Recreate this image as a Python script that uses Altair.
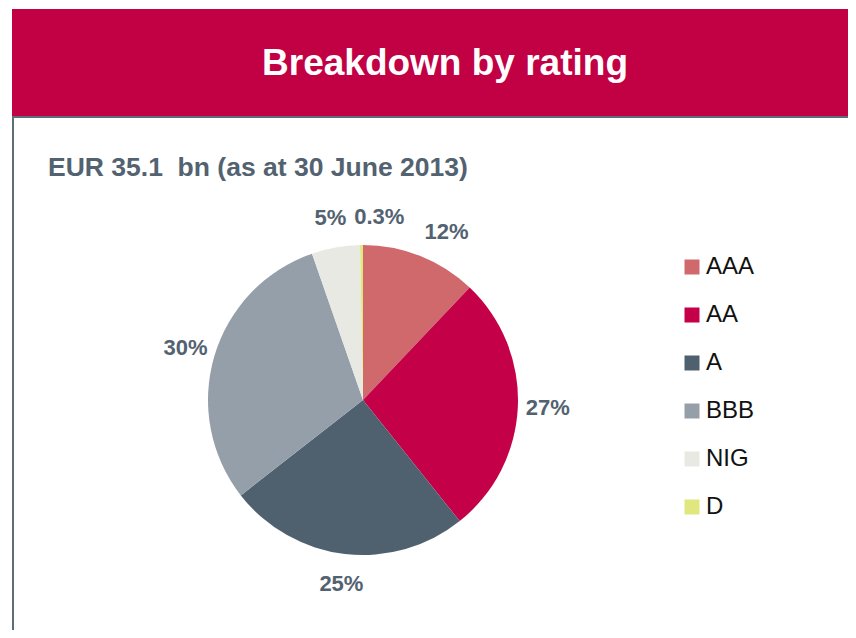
import altair as alt
import pandas as pd

ratings = ["AAA", "AA", "A", "BBB", "NIG", "D"]
shares = [12, 27, 25, 30, 5, 0.3]
labels = ["12%", "27%", "25%", "30%", "5%", "0.3%"]
colors = ["#d0696b", "#c30048", "#4f606e", "#959faa", "#e9e9e3", "#dfe77e"]

title_text = "Breakdown by rating"
subtitle_text = "EUR 35.1\u00a0 bn (as at 30 June 2013)"

df = pd.DataFrame({"rating": ratings, "share": shares, "label": labels})

FONT = "Liberation Sans"
GREY = "#536270"
CX, CY = 355, 392

one = alt.Data(values=[{}])

header = alt.Chart(one).mark_rect(color="#c20044").encode(
    x=alt.value(4), x2=alt.value(840), y=alt.value(1), y2=alt.value(108)
)
hline = alt.Chart(one).mark_rule(color="#5d6d7b", strokeWidth=2).encode(
    x=alt.value(4), x2=alt.value(840), y=alt.value(109)
)
vline = alt.Chart(one).mark_rule(color="#5d6d7b", strokeWidth=2).encode(
    x=alt.value(5), y=alt.value(108), y2=alt.value(630)
)
title = alt.Chart(one).mark_text(
    text=title_text, font=FONT, fontSize=37, fontWeight="bold", color="white",
    align="center", baseline="alphabetic"
).encode(x=alt.value(437), y=alt.value(67))
subtitle = alt.Chart(one).mark_text(
    text=subtitle_text, font=FONT, fontSize=26.5, fontWeight="bold", color=GREY,
    align="left", baseline="alphabetic"
).encode(x=alt.value(40), y=alt.value(168))

base = alt.Chart(df).transform_window(idx="row_number()")

theta = alt.Theta("share:Q", stack=True)
order = alt.Order("idx:Q")

pie = base.mark_arc(outerRadius=155).encode(
    theta=theta,
    order=order,
    x=alt.value(CX),
    y=alt.value(CY),
    color=alt.Color(
        "rating:N",
        scale=alt.Scale(domain=ratings, range=colors),
        sort=ratings,
        legend=alt.Legend(
            title=None, orient="none", legendX=672, legendY=247,
            direction="vertical", symbolType="square", symbolSize=225,
            symbolStrokeWidth=0, symbolOpacity=1, labelFont=FONT,
            labelFontSize=24, labelColor="#111111", labelOffset=2,
            rowPadding=24, padding=0,
        ),
    ),
)

text_kw = dict(font=FONT, fontSize=22, fontWeight="bold", color=GREY,
               align="center", baseline="middle")

lab_main = base.transform_calculate(
    t="indexof(['AAA','D'], datum.rating) < 0 ? datum.label : ''"
).mark_text(**text_kw).encode(
    theta=theta, order=order, radius=alt.value(185),
    x=alt.value(CX), y=alt.value(CY), text="t:N"
)
lab_aaa = base.transform_calculate(
    t="datum.rating == 'AAA' ? datum.label : ''"
).mark_text(dx=15, dy=4, **text_kw).encode(
    theta=theta, order=order, radius=alt.value(185),
    x=alt.value(CX), y=alt.value(CY), text="t:N"
)
lab_d = base.transform_calculate(
    t="datum.rating == 'D' ? datum.label : ''"
).mark_text(dx=18, dy=2, **text_kw).encode(
    theta=theta, order=order, radius=alt.value(185),
    x=alt.value(CX), y=alt.value(CY), text="t:N"
)

chart = alt.layer(
    header, hline, vline, title, subtitle, pie, lab_main, lab_aaa, lab_d
).properties(
    width=840, height=622, autosize="none", padding=0
).configure_view(stroke=None)

chart.save("out.html", embed_options={"renderer": "svg", "actions": False})
